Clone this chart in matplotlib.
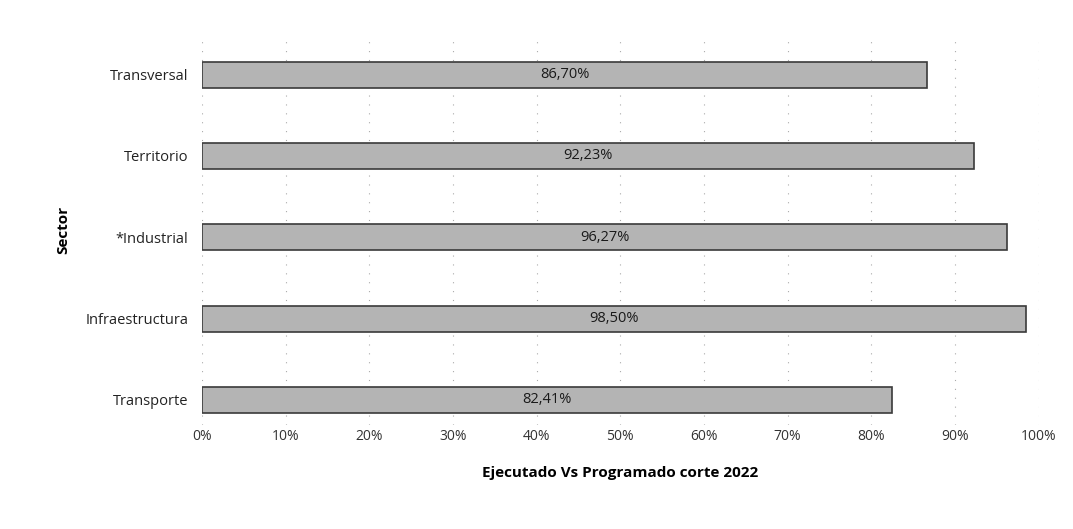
import numpy as np
import matplotlib.pyplot as plt

# Data
sectors = ['Transporte', 'Infraestructura', '*Industrial', 'Territorio', 'Transversal']
values = [0.8241, 0.9850, 0.9627, 0.9223, 0.8670]
xticks = np.arange(0, 1.01, 0.1)
xtick_labels = ['0%', '10%', '20%', '30%', '40%', '50%', '60%', '70%', '80%', '90%', '100%']

plt.rcParams['font.family'] = ['Open Sans', 'DejaVu Sans']

fig = plt.figure(figsize=(10.73, 5.29), dpi=100)
ax = fig.add_axes([0.1883, 0.1966, 0.7797, 0.7391])

y = np.arange(len(sectors))
ax.barh(y, values, height=0.32, color='#b4b4b4', edgecolor='#3a3a3a', linewidth=1.2, zorder=2)

for yi, v in zip(y, values):
    label = f'{v * 100:.2f}%'.replace('.', ',')
    ax.text(v / 2, yi, label, ha='center', va='center', fontsize=10.5, color='#1a1a1a', zorder=3)

ax.set_xlim(0, 1)
ax.set_ylim(-0.31, 4.5)
ax.set_xticks(xticks)
ax.set_xticklabels(xtick_labels, fontsize=10, color='#333333')
ax.set_yticks(y)
ax.set_yticklabels(sectors, fontsize=10.5, color='#222222')
ax.tick_params(length=0)
ax.tick_params(axis='x', pad=3)
ax.tick_params(axis='y', pad=10)

ax.grid(axis='x', linestyle=(0, (1, 7)), color='#aaaaaa', linewidth=0.8, zorder=0)
for s in ax.spines.values():
    s.set_visible(False)

ax.set_xlabel('Ejecutado Vs Programado corte 2022', fontsize=11, fontweight='bold', labelpad=16)
ax.set_ylabel('Sector', fontsize=11, fontweight='bold', labelpad=11)

fig.savefig('out.png', dpi=100)
